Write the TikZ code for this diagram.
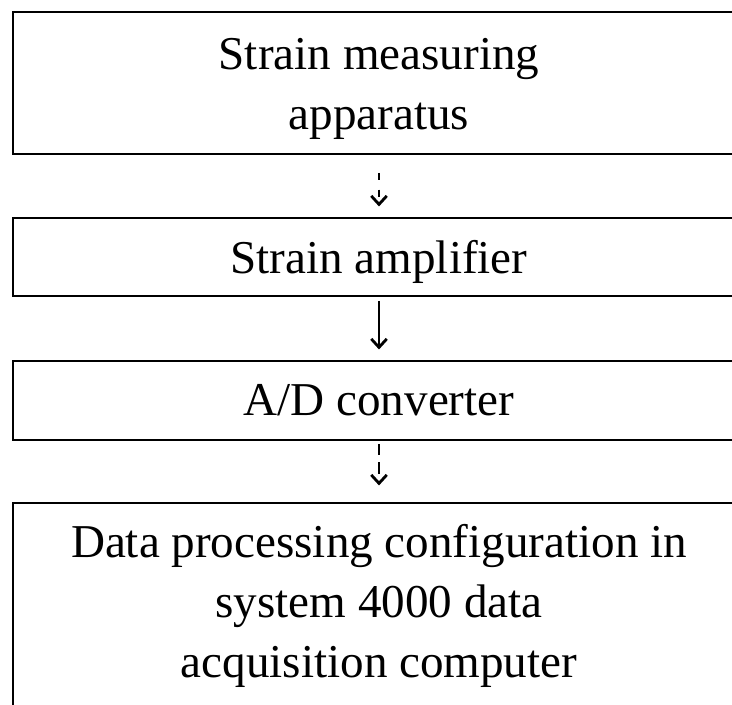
\documentclass[tikz,border=0pt]{standalone}
\usepackage{fontspec}
\setmainfont{Liberation Serif}
\usetikzlibrary{arrows.meta}

\newcommand{\lowstrut}{\rule{0pt}{31pt}}

\tikzset{
    stagebox/.style={draw, line width=1.1pt, minimum width=18.3cm, inner sep=0pt, align=center,
        font=\fontsize{33.5}{42.7}\selectfont},
    flowarrow/.style={line width=0.9pt, -{Straight Barb[length=6pt, width=11pt, line width=2pt]}},
}

\begin{document}
\begin{tikzpicture}
    \useasboundingbox (0, 0) rectangle (18.3, -17.6);

    % Measurement chain (boxes run off the right and bottom edges)
    \node[stagebox, minimum height=3.55cm] (apparatus) at (9.475, -2.075) {\lowstrut Strain measuring\\apparatus};
    \node[stagebox, minimum height=1.95cm] (amplifier) at (9.475, -6.425) {\lowstrut Strain amplifier};
    \node[stagebox, minimum height=1.975cm] (converter) at (9.475, -10.0125) {A/D converter};
    \node[stagebox, minimum height=5.15cm] (computer) at (9.475, -15.15) {Data processing configuration in\\system 4000 data\\acquisition computer};

    % Signal flow
    \draw[flowarrow, dash pattern=on 5pt off 7pt, shorten <=0.45cm, shorten >=0.27cm] (apparatus) -- (amplifier);
    \draw[flowarrow, shorten <=0.1cm, shorten >=0.27cm] (amplifier) -- (converter);
    \draw[flowarrow, dash pattern=on 8pt off 5pt, shorten <=0.08cm, shorten >=0.42cm] (converter) -- (computer);
\end{tikzpicture}
\end{document}
